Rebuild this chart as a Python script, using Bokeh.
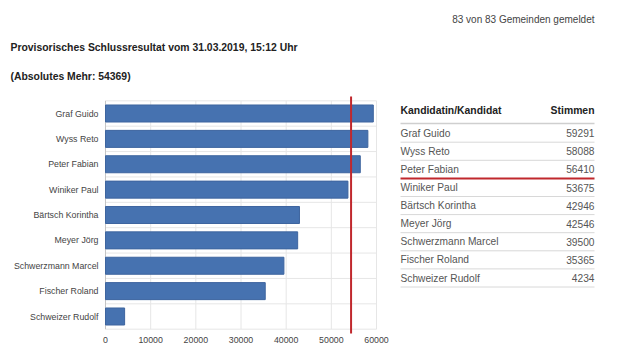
from bokeh.plotting import figure
from bokeh.models import Range1d, ColumnDataSource
from bokeh.embed import file_html
from bokeh.resources import INLINE
from bokeh.core.properties import value

# ---------------- data ----------------
candidates = ["Graf Guido", "Wyss Reto", "Peter Fabian", "Winiker Paul",
              "Bärtsch Korintha", "Meyer Jörg", "Schwerzmann Marcel",
              "Fischer Roland", "Schweizer Rudolf"]
votes = [59291, 58088, 56410, 53675, 42946, 42546, 39500, 35365, 4234]
absolute_majority = 54369
x_ticks = [0, 10000, 20000, 30000, 40000, 50000, 60000]
status_text = "83 von 83 Gemeinden gemeldet"
subtitle = "Provisorisches Schlussresultat vom 31.03.2019, 15:12 Uhr"
majority_text = "(Absolutes Mehr: 54369)"
table_header = ["Kandidatin/Kandidat", "Stimmen"]

FONT = value("Liberation Sans")
BAR = "#4672b0"
RED = "#c0282d"
GRID = "#e6e6e6"
TXT = "#444444"

W, H = 624, 344
n = len(candidates)
pos = list(range(n))

# whole canvas is the frame; page layout in pixel coordinates
p = figure(width=W, height=H, output_backend="svg", toolbar_location=None,
           x_range=Range1d(0, W), y_range=Range1d(H, 0),
           x_axis_type=None, y_axis_type=None, title=None,
           min_border_left=0, min_border_right=0, min_border_top=0,
           min_border_bottom=0)
p.outline_line_color = None
p.grid.visible = False

# chart scales: votes axis and candidate axis
X0, X1 = 105, 376           # pixel positions of 0 and 60000
C0, STEP = 113, 25.375      # pixel position of first candidate, spacing
vmax = x_ticks[-1]
p.extra_x_ranges = {"votes": Range1d(-X0 * vmax / (X1 - X0),
                                     vmax + (W - X1) * vmax / (X1 - X0))}
p.extra_y_ranges = {"cand": Range1d((H - C0) / STEP, -C0 / STEP)}
kw = dict(x_range_name="votes", y_range_name="cand")

# grid
p.segment(x0=x_ticks[1:], x1=x_ticks[1:], y0=[-0.5] * (len(x_ticks) - 1),
          y1=[n - 0.5] * (len(x_ticks) - 1), line_color=GRID, line_width=1, **kw)
bounds = [i - 0.5 for i in range(n + 1)]
p.segment(x0=[0] * len(bounds), x1=[vmax] * len(bounds), y0=bounds, y1=bounds,
          line_color=GRID, line_width=1, **kw)
p.segment(x0=[0], x1=[0], y0=[-0.5], y1=[n - 0.5], line_color="#c4c4c4",
          line_width=1, **kw)

# bars
src = ColumnDataSource(dict(y=pos, v=votes, name=candidates))
p.hbar(y="y", right="v", left=0, height=0.67, source=src,
       fill_color=BAR, line_color="#3e659f", line_width=1, **kw)

# absolute majority line
p.segment(x0=[absolute_majority], x1=[absolute_majority],
          y0=[-0.67], y1=[n - 0.33], line_color=RED, line_width=2, **kw)

# axis labels
p.text(x=[0] * n, y=pos, text=candidates, x_offset=-7, text_font=FONT,
       text_font_size="8.8px", text_color=TXT, text_align="right",
       text_baseline="middle", **kw)
p.text(x=x_ticks, y=[n - 0.5] * len(x_ticks), text=[str(t) for t in x_ticks],
       y_offset=11, text_font=FONT, text_font_size="8.8px", text_color=TXT,
       text_align="center", text_baseline="middle", **kw)

# header texts
p.text(x=[10, 10], y=[47, 76], text=[subtitle, majority_text], text_font=FONT,
       text_font_size="10.4px", text_font_style="bold", text_color="#222222",
       text_align="left", text_baseline="middle")
TL, TR = 400, 594
p.text(x=[TR], y=[19], text=[status_text], text_font=FONT,
       text_font_size="10px", text_color=TXT, text_align="right",
       text_baseline="middle")

# table
p.text(x=[TL, TR], y=[110, 110], text=table_header, text_font=FONT,
       text_font_size="10.4px", text_font_style="bold", text_color="#222222",
       text_align=["left", "right"], text_baseline="middle")
p.segment(x0=[TL], x1=[TR], y0=[123], y1=[123], line_color="#cfcfcf",
          line_width=1.5)
row_y = [132.7 + 18.1 * i for i in range(n)]
sep_y = [141.7 + 18.1 * i for i in range(n)]
elected = sum(1 for v in votes if v >= absolute_majority)
sep_col = [RED if i == elected - 1 else "#d8d8d8" for i in range(n)]
sep_w = [2 if i == elected - 1 else 1 for i in range(n)]
p.segment(x0=[TL] * n, x1=[TR] * n, y0=sep_y, y1=sep_y,
          line_color=sep_col, line_width=sep_w)
p.text(x=[TL] * n, y=row_y, text=candidates, text_font=FONT,
       text_font_size="10.2px", text_color="#555555", text_align="left",
       text_baseline="middle")
p.text(x=[TR] * n, y=row_y, text=[str(v) for v in votes], text_font=FONT,
       text_font_size="10.2px", text_color="#555555", text_align="right",
       text_baseline="middle")

open("out.html", "w").write(file_html(p, INLINE))
